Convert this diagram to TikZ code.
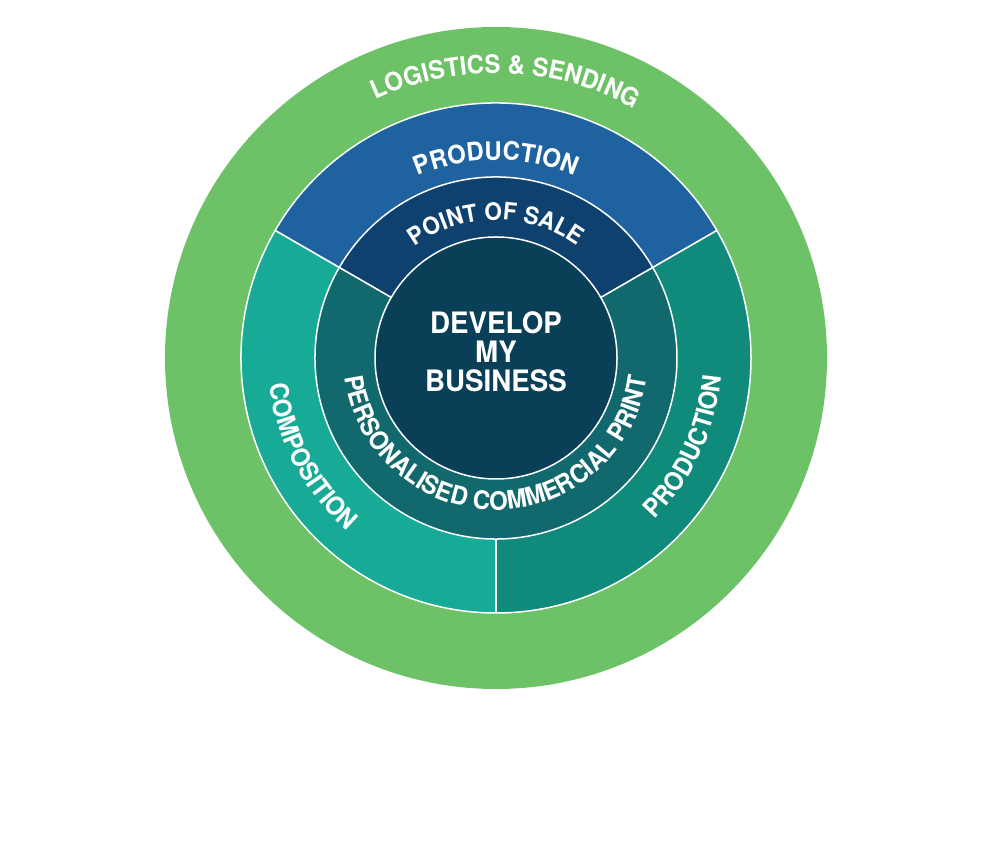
\documentclass[tikz,border=0pt]{standalone}
\usepackage{fontspec}
\setmainfont{TeX Gyre Heros}
\newfontfamily\ringfamily[FakeStretch=0.94]{TeX Gyre Heros}
\usepackage{xcolor}
\usepackage{tikz}
\usetikzlibrary{decorations.text}
\definecolor{Logistics}{HTML}{6DC166}
\definecolor{ProdTop}{HTML}{1E63A0}
\definecolor{Sale}{HTML}{0F416F}
\definecolor{Composition}{HTML}{17AA97}
\definecolor{ProdRight}{HTML}{108A7A}
\definecolor{Print}{HTML}{12696D}
\definecolor{Core}{HTML}{0A3F58}
\newcommand{\ringfont}{\ringfamily\fontsize{25.5}{25.5}\selectfont\bfseries}
\newcommand{\salefont}{\ringfamily\fontsize{24}{24}\selectfont\bfseries}

\begin{document}
\begin{tikzpicture}[x=1pt,y=1pt,
  seg/.style={draw=white,line width=1.5pt},
  ringtext/.style={decorate,decoration={text along path,text align=center,
    text color=white,text={|\ringfont|#1}}},
  saletext/.style={decorate,decoration={text along path,text align=center,
    text color=white,text={|\salefont|#1}}},
  coretext/.style={text=white,align=center,font=\ringfamily\fontsize{29.5}{29}\selectfont\bfseries}]
\useasboundingbox (0,0) rectangle (1000,853);
\begin{scope}[shift={(496,495)}]
% rings and segments
\fill[Logistics] (0,0) circle (331);
\filldraw[seg,fill=ProdTop] (0,0) -- (30:255) arc (30:150:255) -- cycle;
\filldraw[seg,fill=Composition] (0,0) -- (150:255) arc (150:270:255) -- cycle;
\filldraw[seg,fill=ProdRight] (0,0) -- (270:255) arc (270:390:255) -- cycle;
\filldraw[seg,fill=Sale] (0,0) -- (30:181) arc (30:150:181) -- cycle;
\filldraw[seg,fill=Print] (0,0) -- (150:181) arc (150:390:181) -- cycle;
\filldraw[seg,fill=Core] (0,0) circle (121);
\node[coretext] (core) at (0,6) {DEVELOP\\MY\\BUSINESS};
% curved labels
\path[ringtext=LOGISTICS {\&} SENDING] (125:285) arc (125:51:285);
\path[ringtext=PRODUCTION] (125:198) arc (125:55:198);
\path[saletext=POINT OF SALE] (135:138) arc (135:45:138);
\path[ringtext=COMPOSITION] (178:228) arc (178:238:228);
\path[ringtext=PRODUCTION] (-55:226) arc (-55:5:226);
\path[ringtext=PERSONALISED COMMERCIAL PRINT] (180:152) arc (180:360:152);
\end{scope}
\end{tikzpicture}
\end{document}
